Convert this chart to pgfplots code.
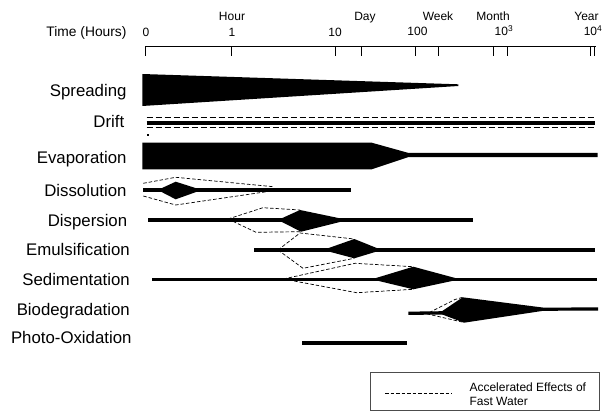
\documentclass[border=0pt]{standalone}
\usepackage{pgfplots}
\pgfplotsset{compat=1.18}
\usepackage{fontspec}
\setmainfont{Liberation Sans}
\begin{document}
\begin{tikzpicture}
\begin{axis}[scale only axis, width=608bp, height=411bp,
  xmin=0, xmax=608, ymin=0, ymax=411, y dir=reverse,
  hide axis, clip=false,
  every node/.style={inner sep=0pt, outer sep=0pt}]
\path (axis cs:0,0) rectangle (axis cs:608,411);
% time axis
\addplot[black, line width=1bp] coordinates {(145,46.5) (596,46.5)};
\foreach \t in {145,231,335,361,415.5,438,493,507,590,594} {
  \edef\temp{\noexpand\addplot[black, line width=1bp] coordinates {(\t,46.5) (\t,56)};}
  \temp
}
\node[anchor=base east, font=\fontsize{13.8bp}{15bp}\selectfont] at (axis cs:130,37) {Time (Hours)};
\begin{scope}[every node/.append style={anchor=base, font=\fontsize{12bp}{13bp}\selectfont}]
\node at (axis cs:146,36.5) {0};
\node at (axis cs:232,36.5) {1};
\node at (axis cs:335,37) {10};
\node at (axis cs:417.5,36) {100};
\node at (axis cs:504,36) {10\textsuperscript{3}};
\node at (axis cs:593,36) {10\textsuperscript{4}};
\node at (axis cs:232,20.5) {Hour};
\node at (axis cs:365,20.5) {Day};
\node at (axis cs:438,20.5) {Week};
\node at (axis cs:493,20.5) {Month};
\node at (axis cs:586.5,20.5) {Year};
\end{scope}
% process labels
\begin{scope}[every node/.append style={anchor=base east, font=\fontsize{16.8bp}{18bp}\selectfont}]
\node at (axis cs:130,96) {Spreading};
\node at (axis cs:127.7,127.7) {Drift};
\node at (axis cs:130,163.3) {Evaporation};
\node at (axis cs:130,196) {Dissolution};
\node at (axis cs:130.7,226.7) {Dispersion};
\node at (axis cs:133.3,255) {Emulsification};
\node at (axis cs:133.3,285) {Sedimentation};
\node at (axis cs:133.3,315) {Biodegradation};
\node at (axis cs:135,343.3) {Photo-Oxidation};
\end{scope}
% Spreading
\addplot[fill=black, draw=none] coordinates {(142.3,74) (458.3,84.3) (458.3,86) (142.3,106)} -- cycle;
% Drift
\addplot[black, line width=1.3bp, dash pattern=on 6bp off 3bp] coordinates {(146.7,117.3) (595,117.3)};
\addplot[black, line width=4bp] coordinates {(146.7,122.7) (595,122.7)};
\addplot[black, line width=1.3bp, dash pattern=on 6bp off 3bp] coordinates {(146.7,127.3) (595,127.3)};
\addplot[only marks, mark=square*, mark size=0.5bp, black] coordinates {(148,135)};
% Evaporation
\addplot[fill=black, draw=none] coordinates {(142.3,142.7) (371.7,142.7) (408.3,152.9) (597.7,152.9) (597.7,157.1) (408.3,157.1) (371.7,169.3) (142.3,169.3)} -- cycle;
% Dissolution
\addplot[black, line width=4bp] coordinates {(143.3,190) (350.7,190)};
\addplot[fill=black, draw=none] coordinates {(157.7,190) (175.7,181.7) (201.7,190) (175.7,199.3)} -- cycle;
\addplot[black, line width=0.7bp, dash pattern=on 3.5bp off 2bp] coordinates {(143.3,183.3) (175.7,177.3) (273.3,186.7)};
\addplot[black, line width=0.7bp, dash pattern=on 3.5bp off 2bp] coordinates {(143.3,196) (175.7,205) (268,191.5)};
% Dispersion
\addplot[black, line width=4bp] coordinates {(148.3,220) (473,220)};
\addplot[fill=black, draw=none] coordinates {(278,220) (300,210) (348,220) (301,231.7)} -- cycle;
\addplot[black, line width=0.7bp, dash pattern=on 3.5bp off 2bp] coordinates {(228,219) (263,207.7) (300,210)};
\addplot[black, line width=0.7bp, dash pattern=on 3.5bp off 2bp] coordinates {(228,219) (256,232.3) (301,231.7)};
% Emulsification
\addplot[black, line width=4bp] coordinates {(254,250) (595,250)};
\addplot[fill=black, draw=none] coordinates {(323,250) (354.3,239) (381.7,250) (354.3,258.3)} -- cycle;
\addplot[black, line width=0.7bp, dash pattern=on 3.5bp off 2bp] coordinates {(278,250) (300,233) (354.3,239)};
\addplot[black, line width=0.7bp, dash pattern=on 3.5bp off 2bp] coordinates {(278,250) (303,268.3) (354.3,258.3)};
% Sedimentation
\addplot[black, line width=3.3bp] coordinates {(152,279.3) (596.7,279.3)};
\addplot[fill=black, draw=none] coordinates {(371.7,279.3) (413.3,266.7) (460,279.3) (413.3,289.3)} -- cycle;
\addplot[black, line width=0.7bp, dash pattern=on 3.5bp off 2bp] coordinates {(283.3,279) (355,263.3) (413.3,266.7)};
\addplot[black, line width=0.7bp, dash pattern=on 3.5bp off 2bp] coordinates {(283.3,279) (356.7,292.7) (413.3,289.3)};
% Biodegradation
\addplot[black, line width=3.3bp] coordinates {(408.3,313.3) (446,312.8)};
\addplot[fill=black, draw=none] coordinates {(442,311.2) (462.7,297.3) (543.3,307.6) (598,307.4) (598,310.6) (543.3,310.8) (464,322.7) (442,314.4)} -- cycle;
\addplot[black, line width=0.7bp, dash pattern=on 3.5bp off 2bp] coordinates {(429.3,312.5) (455,299.5) (462.7,297.3)};
\addplot[black, line width=0.7bp, dash pattern=on 3.5bp off 2bp] coordinates {(426.7,313.8) (463.3,322.3)};
% Photo-Oxidation
\addplot[black, line width=4bp] coordinates {(302,343) (407,343)};
% legend box
\addplot[draw=black!70, line width=0.9bp] coordinates {(370,372.3) (599,372.3) (599,410) (370,410)} -- cycle;
\addplot[black, line width=0.8bp, dash pattern=on 3.5bp off 2bp] coordinates {(385,393.3) (451.7,393.3)};
\node[anchor=base west, font=\fontsize{12bp}{13bp}\selectfont] at (axis cs:466,391) {Accelerated Effects of};
\node[anchor=base west, font=\fontsize{12bp}{13bp}\selectfont] at (axis cs:466,405) {Fast Water};
\end{axis}
\end{tikzpicture}
\end{document}
